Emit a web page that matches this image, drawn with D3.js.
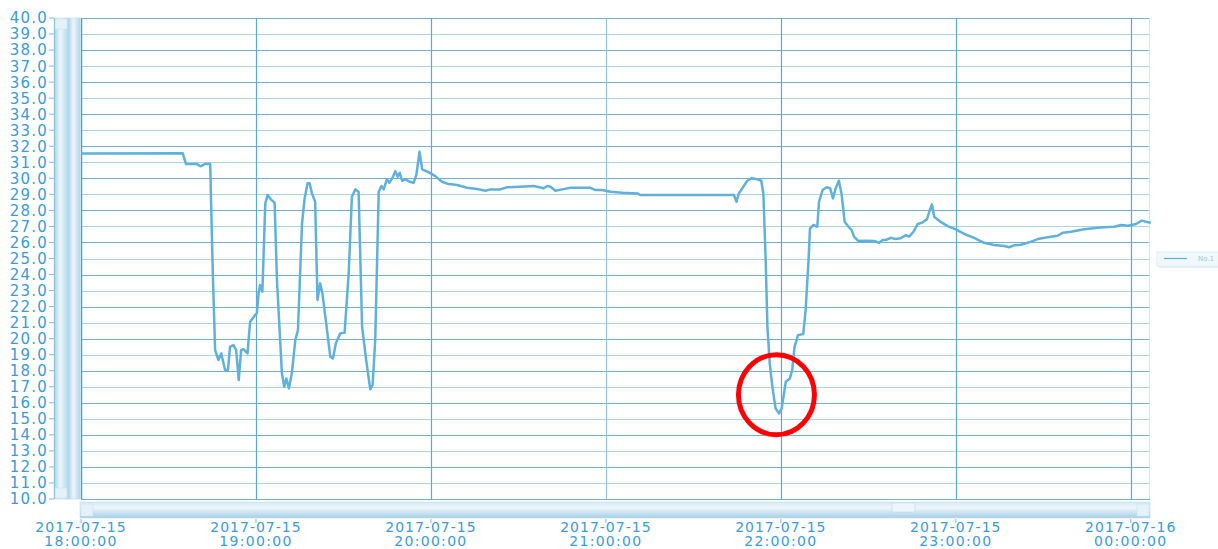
<!DOCTYPE html>
<html>
<head>
<meta charset="utf-8">
<script src="https://cdn.jsdelivr.net/npm/d3@7"></script>
<style>
  body { margin: 0; background: #fff; }
  svg { display: block; font-family: "DejaVu Sans", sans-serif; }
</style>
</head>
<body>
<svg id="chart" width="1218" height="549"></svg>
<script>
// minutes after 2017-07-15 18:00:00
const minutes = [0, 34.9, 36.0, 38.0, 39.7, 40.9, 42.6, 44.3, 45.2, 46.0, 47.1, 48.1, 49.4, 50.4, 51.1, 52.3, 53.2, 54.1, 54.9, 55.7,
  57.1, 58.0, 59.7, 60.3, 60.9, 61.4, 62.2, 63.2, 64.0, 65.1, 66.4, 67.2, 68.9, 69.7, 70.4, 71.3, 72.3, 73.5, 74.4, 75.8,
  76.7, 77.7, 78.4, 79.2, 80.3, 81.1, 82.0, 82.8, 83.8, 85.5, 86.4, 87.4, 88.9, 90.4, 91.8, 92.9, 94.1, 95.2, 96.4, 97.8,
  99.2, 100.0, 100.9, 102.1, 103.0, 103.8, 104.9, 105.8, 106.9, 107.8, 108.6, 109.3, 110.1, 111.2, 112.7, 114.1, 115.0, 116.1, 117.0, 119.2,
  121.5, 123.8, 126.1, 129.0, 132.4, 135.8, 138.7, 140.4, 143.8, 146.1, 150.7, 155.3, 158.7, 159.9, 161.0, 162.7, 165.0, 167.9, 174.7, 176.4,
  178.7, 181.6, 185.6, 190.8, 191.9, 197.6, 223.9, 224.8, 225.6, 226.8, 228.5, 229.9, 231.9, 233.3, 234.0, 234.8, 235.4, 236.2, 237.1, 238.2,
  239.4, 240.3, 241.7, 243.1, 243.9, 244.7, 245.9, 247.7, 248.5, 249.5, 250.0, 251.2, 252.5, 253.1, 254.3, 255.7, 256.9, 257.9, 258.8, 259.9,
  260.8, 261.9, 263.2, 264.3, 265.1, 266.6, 269.1, 272.0, 273.7, 274.9, 276.0, 277.7, 279.4, 281.1, 282.9, 284.0, 285.5, 286.9, 288.4, 290.1,
  291.1, 291.8, 292.6, 294.3, 297.2, 300.0, 302.9, 306.3, 309.7, 313.2, 316.6, 318.3, 320.0, 322.3, 325.2, 328.1, 331.5, 334.9, 336.7, 339.5,
  344.1, 348.7, 352.1, 354.4, 356.7, 359.0, 361.8, 363.8, 365.2, 366.9];

const values = [31.55, 31.56, 30.9, 30.9, 30.9, 30.75, 30.9, 30.9, 24.1, 19.29, 18.67, 19.08, 18.04, 18.04, 19.49, 19.6, 19.29, 17.42, 19.29, 19.35,
  19.08, 21.05, 21.47, 21.58, 22.83, 23.34, 22.93, 28.44, 28.96, 28.69, 28.48, 23.66, 17.84, 17.0, 17.52, 16.9, 17.84, 19.91, 20.54, 27.19,
  28.75, 29.69, 29.69, 29.06, 28.54, 22.41, 23.45, 22.83, 21.37, 18.87, 18.77, 19.71, 20.33, 20.37, 24.07, 28.85, 29.31, 29.16, 20.74, 18.67,
  16.84, 17.11, 19.91, 29.16, 29.52, 29.31, 29.94, 29.73, 30.06, 30.45, 30.1, 30.35, 29.85, 29.94, 29.79, 29.73, 30.21, 31.66, 30.56, 30.39,
  30.14, 29.79, 29.64, 29.58, 29.41, 29.33, 29.23, 29.31, 29.31, 29.44, 29.48, 29.52, 29.38, 29.52, 29.48, 29.23, 29.31, 29.41, 29.41, 29.27,
  29.27, 29.16, 29.1, 29.06, 28.96, 28.96, 28.96, 28.54, 29.06, 29.38, 29.85, 30.0, 29.94, 29.85, 29.06, 24.9, 20.74, 18.46, 17.0, 15.65,
  15.34, 15.65, 17.31, 17.52, 18.04, 19.49, 20.22, 20.29, 21.78, 24.9, 26.88, 27.09, 26.98, 28.54, 29.27, 29.44, 29.38, 28.75, 29.38, 29.85,
  29.06, 27.29, 26.98, 26.77, 26.36, 26.09, 26.11, 26.09, 25.98, 26.15, 26.15, 26.29, 26.21, 26.26, 26.46, 26.36, 26.67, 27.15, 27.23, 27.44,
  28.02, 28.38, 27.6, 27.35, 27.02, 26.82, 26.53, 26.29, 25.98, 25.84, 25.78, 25.7, 25.82, 25.86, 26.01, 26.21, 26.32, 26.42, 26.61, 26.67,
  26.82, 26.92, 26.96, 26.98, 27.09, 27.04, 27.15, 27.36, 27.29, 27.23];

const seriesName = "No.1";
const yTicks = d3.range(10, 41, 1);
const hourTicks = ["2017-07-15 18:00:00", "2017-07-15 19:00:00", "2017-07-15 20:00:00", "2017-07-15 21:00:00",
  "2017-07-15 22:00:00", "2017-07-15 23:00:00", "2017-07-16 00:00:00"];
const highlight = { minute: 238.5, value: 16.5 };  // red ring around the dip

const parse = d3.timeParse("%Y-%m-%d %H:%M:%S");
const start = parse("2017-07-15 18:00:00");
const data = minutes.map((m, i) => ({ t: d3.timeSecond.offset(start, Math.round(m * 60)), v: values[i] }));

const pL = 81, pR = 1150, pT = 18, pB = 499;
const blue = "#3d9ad4";

const x = d3.scaleTime()
  .domain([start, d3.timeSecond.offset(start, 366.6 * 60)])
  .range([pL, pR]);
const y = d3.scaleLinear().domain([10, 40]).range([pB, pT]);

const svg = d3.select("#chart");
const defs = svg.append("defs");

// scrollbar gradients
const gv = defs.append("linearGradient").attr("id", "gv").attr("x1", 0).attr("x2", 1).attr("y1", 0).attr("y2", 0);
gv.append("stop").attr("offset", "0%").attr("stop-color", "#a9d1e8");
gv.append("stop").attr("offset", "45%").attr("stop-color", "#eef6fb");
gv.append("stop").attr("offset", "100%").attr("stop-color", "#b4d8ec");
const gh = defs.append("linearGradient").attr("id", "gh").attr("x1", 0).attr("x2", 0).attr("y1", 0).attr("y2", 1);
gh.append("stop").attr("offset", "0%").attr("stop-color", "#d6eaf5");
gh.append("stop").attr("offset", "35%").attr("stop-color", "#eef6fb");
gh.append("stop").attr("offset", "100%").attr("stop-color", "#a6cfe6");

// grid (odd/even lines render at slightly different strength, like the original)
svg.append("g").selectAll("line").data(yTicks).enter().append("line")
  .attr("x1", pL).attr("x2", pR)
  .attr("y1", d => Math.round(y(d)) + 0.5).attr("y2", d => Math.round(y(d)) + 0.5)
  .attr("stroke", (d, i) => i % 2 ? "#a9d3ec" : "#6ab2dc")
  .attr("stroke-width", 1.1);

svg.append("g").selectAll("line").data(hourTicks.slice(1)).enter().append("line")
  .attr("x1", d => Math.round(x(parse(d))) + 0.5).attr("x2", d => Math.round(x(parse(d))) + 0.5)
  .attr("y1", pT).attr("y2", pB)
  .attr("stroke", (d, i) => i === 2 ? "#8cc3e3" : "#5aa8d6").attr("stroke-width", 1.2);

// plot border
svg.append("line").attr("x1", pL + 0.5).attr("x2", pL + 0.5).attr("y1", pT).attr("y2", pB)
  .attr("stroke", "#4a9fd2").attr("stroke-width", 1.5);
svg.append("line").attr("x1", pR - 0.5).attr("x2", pR - 0.5).attr("y1", pT).attr("y2", pB)
  .attr("stroke", "#cfe6f3").attr("stroke-width", 1);

// vertical scrollbar
svg.append("rect").attr("x", 54).attr("y", pT).attr("width", 14).attr("height", pB - pT)
  .attr("fill", "url(#gv)").attr("stroke", "#b7d9ec").attr("stroke-width", 0.6);
svg.append("rect").attr("x", 68).attr("y", pT).attr("width", 12).attr("height", pB - pT)
  .attr("fill", "url(#gv)").attr("stroke", "#b7d9ec").attr("stroke-width", 0.6);
[pT + 1, pB - 11].forEach(yy => {
  svg.append("rect").attr("x", 55).attr("y", yy).attr("width", 12).attr("height", 10)
    .attr("fill", "#e4f1f8").attr("stroke", "#c4e0ef").attr("stroke-width", 0.6);
});
svg.append("line").attr("x1", 54.5).attr("x2", 54.5).attr("y1", pT).attr("y2", pB)
  .attr("stroke", "#8cc3e3");

// horizontal scrollbar
svg.append("rect").attr("x", 80).attr("y", 502).attr("width", pR - 80).attr("height", 16)
  .attr("fill", "url(#gh)").attr("stroke", "#c0dcec").attr("stroke-width", 0.6);
svg.append("rect").attr("x", 81).attr("y", 504).attr("width", 12).attr("height", 12)
  .attr("fill", "#e6f2f9").attr("stroke", "#c4e0ef").attr("stroke-width", 0.6);
svg.append("rect").attr("x", pR - 13).attr("y", 504).attr("width", 12).attr("height", 12)
  .attr("fill", "#e6f2f9").attr("stroke", "#c4e0ef").attr("stroke-width", 0.6);
svg.append("rect").attr("x", 892).attr("y", 503).attr("width", 23).attr("height", 9)
  .attr("fill", "#eef6fb").attr("stroke", "#bcdaeb").attr("stroke-width", 0.6);

// y axis labels + ticks
const yAxis = svg.append("g");
yAxis.selectAll("line").data(yTicks).enter().append("line")
  .attr("x1", 49).attr("x2", 54).attr("y1", d => y(d)).attr("y2", d => y(d))
  .attr("stroke", "#7dbbe0");
yAxis.selectAll("text").data(yTicks).enter().append("text")
  .attr("x", 48).attr("y", d => y(d)).attr("dy", "0.36em")
  .attr("text-anchor", "end")
  .style("font-size", "15px").style("letter-spacing", "1.2px")
  .attr("fill", blue)
  .text(d => d3.format(".1f")(d));

// x axis labels + ticks
const xAxis = svg.append("g");
xAxis.selectAll("line").data(hourTicks).enter().append("line")
  .attr("x1", d => x(parse(d))).attr("x2", d => x(parse(d)))
  .attr("y1", 519).attr("y2", 523).attr("stroke", "#7dbbe0");
const xl = xAxis.selectAll("text").data(hourTicks).enter().append("text")
  .attr("text-anchor", "middle")
  .style("font-size", "14px").style("letter-spacing", "1px")
  .attr("fill", blue);
xl.append("tspan").attr("x", d => x(parse(d))).attr("y", 532).text(d => d.split(" ")[0]);
xl.append("tspan").attr("x", d => x(parse(d))).attr("y", 546).style("letter-spacing", "1.3px")
  .text(d => d.split(" ")[1]);

// series line
const line = d3.line().x(d => x(d.t)).y(d => y(d.v));
svg.append("path").datum(data)
  .attr("d", line)
  .attr("fill", "none")
  .attr("stroke", "#5fb1da")
  .attr("stroke-width", 2.5)
  .attr("stroke-linejoin", "round");

// highlight ring
svg.append("ellipse")
  .attr("cx", x(d3.timeSecond.offset(start, highlight.minute * 60)))
  .attr("cy", y(highlight.value))
  .attr("rx", 38).attr("ry", 40)
  .attr("fill", "none").attr("stroke", "#ff0000").attr("stroke-width", 5);

// legend
const lg = svg.append("g").attr("transform", "translate(1157,252)");
lg.append("rect").attr("x", 2).attr("y", 2).attr("width", 64).attr("height", 14).attr("fill", "#e3eef5");
lg.append("rect").attr("width", 64).attr("height", 14).attr("fill", "#f1f8fc").attr("stroke", "#e0eef6");
lg.append("line").attr("x1", 7).attr("x2", 30).attr("y1", 6.5).attr("y2", 6.5)
  .attr("stroke", "#5aafd9").attr("stroke-width", 1.2);
lg.append("text").attr("x", 41).attr("y", 9).style("font-size", "7px").attr("fill", "#9cc6e0").text(seriesName);
</script>
</body>
</html>
